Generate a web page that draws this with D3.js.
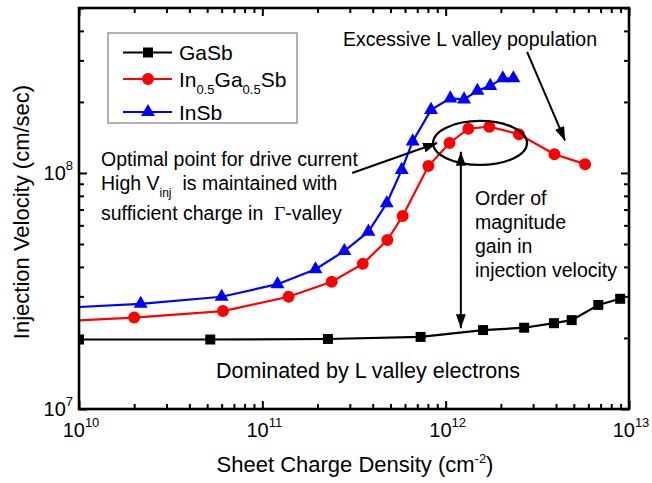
<!DOCTYPE html>
<html>
<head>
<meta charset="utf-8">
<script src="https://cdn.jsdelivr.net/npm/d3@7/dist/d3.min.js"></script>
<style>
  html, body { margin: 0; padding: 0; background: #fff; }
  svg { display: block; font-family: Arial, "Liberation Sans", sans-serif; }
</style>
</head>
<body>
<svg id="chart" width="652" height="483"></svg>
<script>
// Sheet charge density (cm^-2) and injection velocity (cm/s) per channel material
const gasbN  = [1.0e10, 5.2e10, 2.28e11, 7.3e11, 1.6e12, 2.68e12, 3.9e12, 4.87e12, 6.8e12, 8.95e12];
const gasbV  = [1.97e7, 1.97e7, 1.98e7, 2.02e7, 2.16e7, 2.21e7, 2.31e7, 2.38e7, 2.76e7, 2.93e7];

const ingasbN = [5e9, 2.0e10, 6.1e10, 1.39e11, 2.39e11, 3.53e11, 4.81e11, 5.83e11, 8.05e11,
                 1.05e12, 1.33e12, 1.73e12, 2.51e12, 3.92e12, 5.76e12];
const ingasbV = [2.31e7, 2.44e7, 2.60e7, 2.99e7, 3.46e7, 4.12e7, 5.2e7, 6.57e7, 1.07e8,
                 1.34e8, 1.54e8, 1.57e8, 1.46e8, 1.2e8, 1.09e8];

const insbN = [5e9, 2.17e10, 6.0e10, 1.21e11, 1.95e11, 2.8e11, 3.79e11, 4.77e11, 5.76e11,
               6.61e11, 8.32e11, 1.06e12, 1.26e12, 1.49e12, 1.75e12, 2.05e12, 2.34e12];
const insbV = [2.63e7, 2.79e7, 2.99e7, 3.38e7, 3.91e7, 4.67e7, 5.64e7, 7.44e7, 1.03e8,
               1.36e8, 1.85e8, 2.07e8, 2.05e8, 2.23e8, 2.34e8, 2.52e8, 2.52e8];

// Axis ranges and decade labels (base 10, exponent as superscript)
const xDomain = [1e10, 1e13];
const yDomain = [1e7, 5e8];
const xTickExponents = [10, 11, 12, 13];
const yTickExponents = [7, 8];

// Annotation anchors in data units
const arrowExcessive = [[2.78e12, 3.26e8], [4.48e12, 1.37e8]];
const arrowOptimal   = [[3.09e11, 1.0e8], [8.98e11, 1.34e8]];
const arrowGain      = [[1.21e12, 1.23e8], [1.21e12, 2.2e7]];
const ellipseCenter  = [1.54e12, 1.34e8];

const series = [
  { name: ["GaSb"], N: gasbN, V: gasbV, color: "#000000", shape: "square" },
  { name: ["In", "0.5", "Ga", "0.5", "Sb"], N: ingasbN, V: ingasbV, color: "#ff0000", shape: "circle" },
  { name: ["InSb"], N: insbN, V: insbV, color: "#0000ff", shape: "triangle" }
];

const svg = d3.select("#chart");
const plotL = 79, plotR = 629, plotT = 8, plotB = 409;

const x = d3.scaleLog().domain(xDomain).range([plotL, plotR]);
const y = d3.scaleLog().domain(yDomain).range([plotB, plotT]);

const isMajor = v => Math.abs(Math.log10(v) - Math.round(Math.log10(v))) < 1e-9;

// ---- ticks on all four sides, pointing inward ----
function drawTicks(axisFn, scale, transform) {
  const all = scale.ticks();
  const major = all.filter(isMajor);
  const minor = all.filter(v => !isMajor(v));
  [[major, 8], [minor, 5]].forEach(([vals, len]) => {
    const g = svg.append("g").attr("transform", transform)
      .call(axisFn(scale).tickValues(vals).tickSize(-len).tickFormat(""));
    g.select(".domain").remove();
    g.selectAll(".tick line").attr("stroke", "#000").attr("stroke-width", 2);
  });
}
drawTicks(d3.axisBottom, x, `translate(0,${plotB})`);
drawTicks(d3.axisTop, x, `translate(0,${plotT})`);
drawTicks(d3.axisLeft, y, `translate(${plotL},0)`);
drawTicks(d3.axisRight, y, `translate(${plotR},0)`);

// ---- tick labels ----
xTickExponents.forEach(e => {
  const t = svg.append("text")
    .attr("x", x(Math.pow(10, e)) + 2).attr("y", 437)
    .attr("text-anchor", "middle").attr("font-size", 20);
  t.append("tspan").text("10");
  t.append("tspan").attr("dy", -10).attr("font-size", 13).text(e);
});
yTickExponents.forEach(e => {
  const t = svg.append("text")
    .attr("x", 73).attr("y", y(Math.pow(10, e)) + 7)
    .attr("text-anchor", "end").attr("font-size", 20);
  t.append("tspan").text("10");
  t.append("tspan").attr("dy", -10).attr("font-size", 13).text(e);
});

// ---- axis titles ----
const xt = svg.append("text").attr("x", 355).attr("y", 472)
  .attr("text-anchor", "middle").attr("font-size", 22);
xt.append("tspan").text("Sheet Charge Density (cm");
xt.append("tspan").attr("dy", -9).attr("font-size", 13).text("-2");
xt.append("tspan").attr("dy", 9).text(")");

svg.append("text")
  .attr("transform", "translate(29,212) rotate(-90)")
  .attr("text-anchor", "middle").attr("font-size", 22)
  .text("Injection Velocity (cm/sec)");

// ---- series ----
const defs = svg.append("defs");
defs.append("clipPath").attr("id", "plotClip")
  .append("rect").attr("x", plotL).attr("y", plotT)
  .attr("width", plotR - plotL).attr("height", plotB - plotT);

const symbolFor = {
  square: d3.symbol().type(d3.symbolSquare).size(100),
  circle: d3.symbol().type(d3.symbolCircle).size(113),
  triangle: d3.symbol().type(d3.symbolTriangle).size(85)
};

const plot = svg.append("g").attr("clip-path", "url(#plotClip)");
const line = d3.line().x(d => x(d[0])).y(d => y(d[1]));

series.forEach(s => {
  const pts = s.N.map((n, i) => [n, s.V[i]]);
  plot.append("path").datum(pts)
    .attr("d", line).attr("fill", "none")
    .attr("stroke", s.color).attr("stroke-width", 2.2);
  plot.selectAll(null).data(pts).enter().append("path")
    .attr("d", symbolFor[s.shape])
    .attr("transform", d => `translate(${x(d[0])},${y(d[1])})`)
    .attr("fill", s.color);
});

// ---- frame ----
svg.append("rect").attr("x", plotL).attr("y", plotT)
  .attr("width", plotR - plotL).attr("height", plotB - plotT)
  .attr("fill", "none").attr("stroke", "#000").attr("stroke-width", 2.6);

// ---- legend ----
const legend = svg.append("g");
legend.append("rect").attr("x", 108).attr("y", 33).attr("width", 189).attr("height", 90)
  .attr("fill", "#fff").attr("stroke", "#888").attr("stroke-width", 1.3);
const legendRows = [52.5, 79, 112];
series.forEach((s, i) => {
  const cy = legendRows[i];
  legend.append("line").attr("x1", 123).attr("x2", 172).attr("y1", cy).attr("y2", cy)
    .attr("stroke", s.color).attr("stroke-width", 2.2);
  legend.append("path").attr("d", symbolFor[s.shape])
    .attr("transform", `translate(148,${cy})`).attr("fill", s.color);
  const t = legend.append("text").attr("x", 179).attr("y", cy + 7.5).attr("font-size", 21);
  s.name.forEach((part, k) => {
    const sub = k % 2 === 1;
    t.append("tspan")
      .attr("dy", k === 0 ? 0 : (sub ? 7 : -7))
      .attr("font-size", sub ? 13 : 21)
      .text(part);
  });
});

// ---- annotations ----
defs.append("marker").attr("id", "head")
  .attr("viewBox", "0 0 14 10").attr("refX", 14).attr("refY", 5)
  .attr("markerWidth", 14).attr("markerHeight", 10)
  .attr("markerUnits", "userSpaceOnUse").attr("orient", "auto-start-reverse")
  .append("path").attr("d", "M0,0 L14,5 L0,10 Z").attr("fill", "#000");

const arrow = (pts, both) => svg.append("line")
  .attr("x1", x(pts[0][0])).attr("y1", y(pts[0][1]))
  .attr("x2", x(pts[1][0])).attr("y2", y(pts[1][1]))
  .attr("stroke", "#000").attr("stroke-width", 2)
  .attr("marker-end", "url(#head)")
  .attr("marker-start", both ? "url(#head)" : null);

arrow(arrowExcessive, false);
arrow(arrowOptimal, false);
arrow(arrowGain, true);

svg.append("ellipse")
  .attr("cx", x(ellipseCenter[0])).attr("cy", y(ellipseCenter[1]))
  .attr("rx", 47).attr("ry", 22)
  .attr("fill", "none").attr("stroke", "#000").attr("stroke-width", 2.2);

const note = (tx, ty, str, anchor, size) => svg.append("text")
  .attr("x", tx).attr("y", ty).attr("font-size", size || 19.5)
  .attr("text-anchor", anchor || "start").text(str);

note(597, 46, "Excessive L valley population", "end");

note(101, 166, "Optimal point for drive current");
const hv = svg.append("text").attr("x", 101).attr("y", 190).attr("font-size", 19.5);
hv.append("tspan").text("High V");
hv.append("tspan").attr("dy", 7).attr("font-size", 12).text("inj");
hv.append("tspan").attr("dy", -7).text("\u00a0 is maintained with");
const gv = svg.append("text").attr("x", 101).attr("y", 220).attr("font-size", 19.5);
gv.append("tspan").text("sufficient charge in\u00a0 ");
gv.append("tspan").attr("font-family", "'Liberation Serif', 'DejaVu Serif', serif").text("\u0393");
gv.append("tspan").text("-valley");

note(475, 205, "Order of");
note(475, 229, "magnitude");
note(475, 253, "gain in");
note(475, 277, "injection velocity");

note(368, 378, "Dominated by L valley electrons", "middle", 21.5);
</script>
</body>
</html>
